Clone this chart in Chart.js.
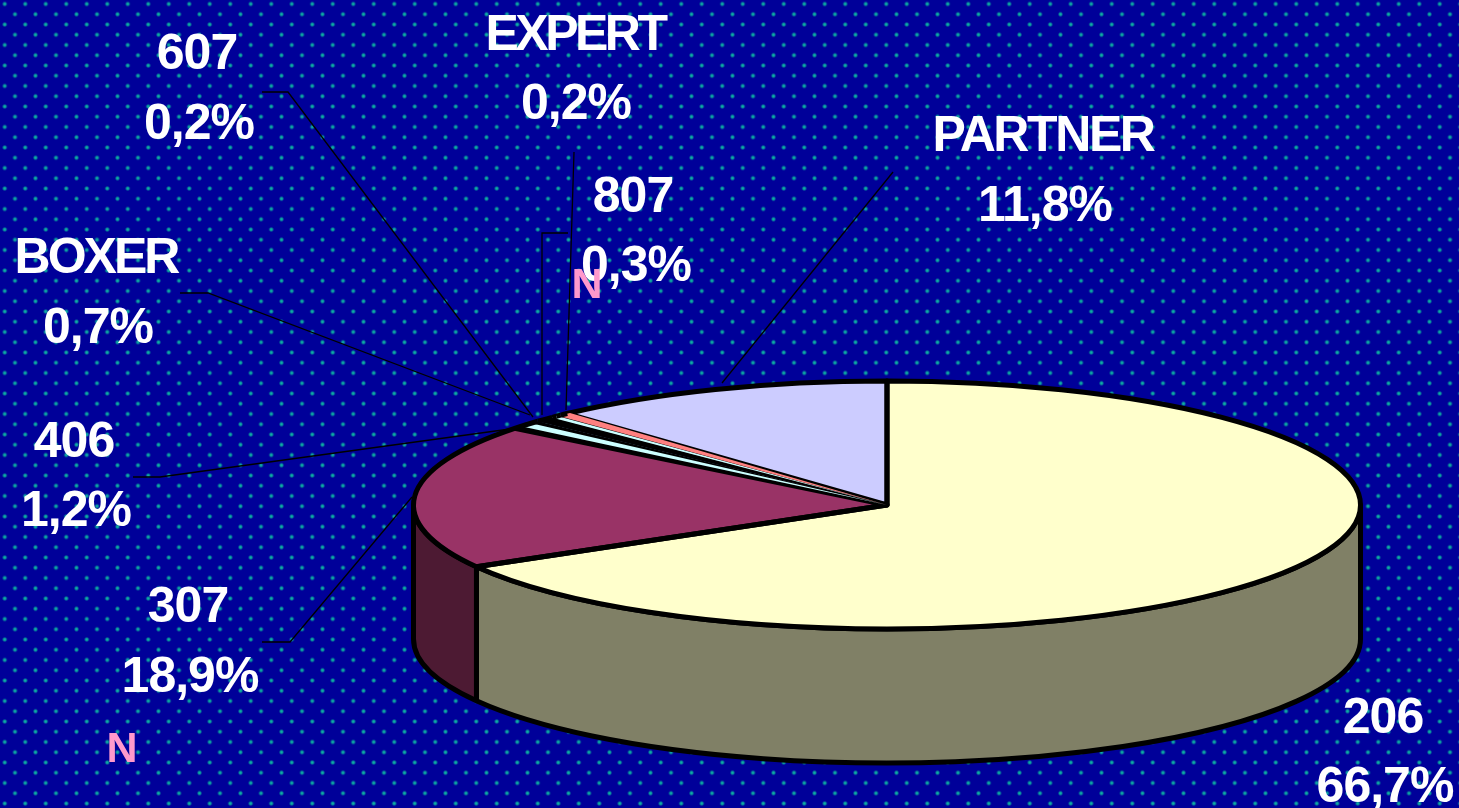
<!DOCTYPE html>
<html><head><meta charset="utf-8">
<script src="https://cdn.jsdelivr.net/npm/chart.js@4/dist/chart.umd.min.js"></script>
<style>
html,body{margin:0;padding:0;width:1459px;height:808px;overflow:hidden;background-color:#000099;
background-image:radial-gradient(circle at center,#10b0a8 0,#0a9a9c 1.2px,rgba(0,153,153,0) 2.6px),radial-gradient(circle at center,#10b0a8 0,#0a9a9c 1.2px,rgba(0,153,153,0) 2.6px);
background-size:20.5px 20.5px;background-position:-5.5px -6.25px,4.75px 4px;}
canvas{display:block}
</style></head><body>
<canvas id="c" width="1459" height="808"></canvas>
<script>
const categories=['206','307','406','BOXER','607','EXPERT','807','PARTNER'];
const shares=[66.7,18.9,1.2,0.7,0.2,0.2,0.3,11.8];
const shareLabels=['66,7%','18,9%','1,2%','0,7%','0,2%','0,2%','0,3%','11,8%'];
const sliceColors=['#FFFFCC','#993366','#CCFFFF','#000000','#CCFFFF','#000000','#FF8080','#CCCCFF'];
const wallColors=['#808066','#4D1A33','#667F7F','#000000','#667F7F','#000000','#804040','#666680'];
// label annotation layout: [name x, name y, share x, share y, name tracking]
const labelSpots=[[1383,719,1385,788,-1],[188,608,190,678,-1],[74,443,76,512,-1],[96,259,98,329,-3],[197,55,199,125,-1],[575,36,576,105,-3.5],[633,198,636,267,-1],[1043,137,1045,207,-2.4]];
const leaderPaths=[[],[[262,642],[290,642],[412,497]],[[133,477],[160,477],[510,429]],[[180,293],[208,293],[530,415]],[[262,92],[288,92],[533,417]],[[574,152],[566,410]],[[568,233],[542,233],[542,415]],[[893,172],[722,383]]];
const stray=[['N',587,286],['N',122,750]];
const xScale=473.5/303,yScale=124/303,depth=134;
const thinBelow=1.5;
// pen compensation for hairline slices, in degrees per side (negative: the outline eats the slice)
const sliverPen=[0,0,-1.2,0,0.1,0,0.45,0];

const pie3d={id:'pie3d',
 beforeDatasetsDraw(chart){
  const ctx=chart.ctx,arcs=chart.getDatasetMeta(0).data;
  const a0=arcs[0],cx=a0.x,cy=a0.y;
  const R=a0.outerRadius,rx=R*xScale,ry=R*yScale;
  ctx.save();ctx.lineJoin='round';ctx.lineWidth=5;ctx.strokeStyle='#000';
  arcs.forEach((a,i)=>{
    const lo=Math.max(a.startAngle,0),hi=Math.min(a.endAngle,Math.PI);
    if(hi<=lo)return;
    ctx.beginPath();
    ctx.ellipse(cx,cy,rx,ry,0,lo,hi);
    ctx.ellipse(cx,cy+depth,rx,ry,0,hi,lo,true);
    ctx.closePath();
    ctx.fillStyle=wallColors[i];ctx.fill();ctx.stroke();
  });
  ctx.restore();
  ctx.save();
  ctx.translate(cx,cy);ctx.scale(xScale,yScale);ctx.translate(-cx,-cy);
 },
 afterDatasetsDraw(chart){
  const ctx=chart.ctx,arcs=chart.getDatasetMeta(0).data;
  ctx.restore();
  const a0=arcs[0],cx=a0.x,cy=a0.y;
  const R=a0.outerRadius,rx=R*xScale,ry=R*yScale;
  const wedge=(s,e)=>{ctx.beginPath();ctx.moveTo(cx,cy);ctx.ellipse(cx,cy,rx,ry,0,s,e);ctx.closePath();};
  ctx.save();ctx.lineJoin='round';ctx.strokeStyle='#000';ctx.lineWidth=5;
  // dark underlay of hairline slices
  arcs.forEach((a,i)=>{if(shares[i]<thinBelow){wedge(a.startAngle,a.endAngle);ctx.fillStyle='#000';ctx.fill();}});
  arcs.forEach((a,i)=>{if(shares[i]>=thinBelow){wedge(a.startAngle,a.endAngle);ctx.stroke();}});
  arcs.forEach((a,i)=>{
    if(shares[i]<thinBelow&&sliceColors[i]!=='#000000'){
      const d=sliverPen[i]*Math.PI/180;
      wedge(a.startAngle-d,a.endAngle+d);ctx.fillStyle=sliceColors[i];ctx.fill();
    }
  });
  arcs.forEach((a,i)=>{if(shares[i]<thinBelow){ctx.beginPath();ctx.ellipse(cx,cy,rx,ry,0,a.startAngle,a.endAngle);ctx.stroke();}});
  ctx.restore();
  ctx.save();ctx.strokeStyle='#000';ctx.lineWidth=1.3;
  leaderPaths.forEach(p=>{if(!p.length)return;ctx.beginPath();p.forEach((q,i)=>i?ctx.lineTo(q[0],q[1]):ctx.moveTo(q[0],q[1]));ctx.stroke();});
  ctx.restore();
  ctx.save();ctx.textAlign='center';ctx.textBaseline='middle';ctx.fillStyle='#fff';
  ctx.font='bold 50px "Liberation Sans"';
  categories.forEach((c,i)=>{
    const s=labelSpots[i];
    ctx.letterSpacing=s[4]+'px';
    ctx.fillText(c,s[0],s[1]);
    ctx.letterSpacing='-1px';
    ctx.fillText(shareLabels[i],s[2],s[3]);
  });
  ctx.letterSpacing='0px';
  ctx.fillStyle='#FF99CC';ctx.font='bold 43px "Liberation Sans"';
  stray.forEach(t=>ctx.fillText(t[0],t[1],t[2]));
  ctx.restore();
 }
};
new Chart(document.getElementById('c'),{
 type:'pie',
 data:{labels:categories,datasets:[{data:shares,backgroundColor:sliceColors,borderWidth:0}]},
 options:{responsive:false,animation:false,
  layout:{padding:{left:315,top:202}},
  plugins:{legend:{display:false},title:{display:false},tooltip:{enabled:false}}},
 plugins:[pie3d]
});
</script></body></html>
